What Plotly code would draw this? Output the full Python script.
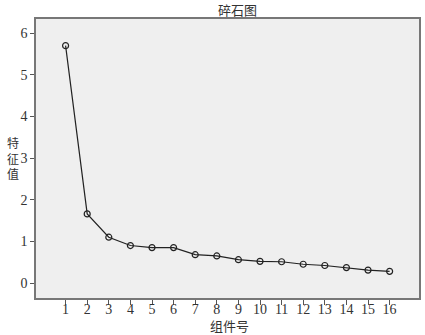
import plotly.graph_objects as go

components = list(range(1, 17))
eigenvalues = [5.70, 1.66, 1.10, 0.90, 0.85, 0.85, 0.68, 0.65, 0.56, 0.52, 0.51, 0.45, 0.42, 0.37, 0.31, 0.28]
y_ticks = [0, 1, 2, 3, 4, 5, 6]

FONT = "Liberation Serif, Noto Sans CJK SC, serif"
TXT = "#333333"

fig = go.Figure()
fig.add_trace(go.Scatter(
    x=components, y=eigenvalues, mode="lines+markers",
    line=dict(color="#222222", width=1.2),
    marker=dict(symbol="circle-open", size=6, color="#222222", line=dict(width=1.2)),
    showlegend=False,
))

fig.update_layout(
    width=425, height=335,
    margin=dict(l=36, r=6, t=19, b=37, autoexpand=False),
    paper_bgcolor="white", plot_bgcolor="#efefef",
    font=dict(family=FONT, size=14, color=TXT),
)
fig.update_xaxes(
    range=[-0.37, 17.36], tickmode="array", tickvals=components,
    ticktext=[str(c) for c in components],
    ticks="outside", ticklen=5, tickcolor="#555555",
    ticklabelstandoff=-8,
    showgrid=False, zeroline=False, automargin=False,
    showline=True, linecolor="#777777", linewidth=1.5, mirror=True,
    tickfont=dict(family=FONT, size=14, color=TXT),
)
fig.update_yaxes(
    range=[-0.36, 6.34], tickmode="array", tickvals=y_ticks,
    ticks="outside", ticklen=4, tickcolor="#555555",
    showgrid=False, zeroline=False, automargin=False,
    showline=True, linecolor="#777777", linewidth=1.5, mirror=True,
    tickfont=dict(family=FONT, size=14, color=TXT),
)
fig.add_annotation(
    text="碎石图", xref="paper", yref="paper",
    x=0.525, y=1.0, xanchor="center", yanchor="bottom", yshift=-1,
    showarrow=False, font=dict(family=FONT, size=13, color=TXT),
)
fig.add_annotation(
    text="组件号", xref="paper", yref="paper",
    x=0.505, y=0.0, xanchor="center", yanchor="top", yshift=-19,
    showarrow=False, font=dict(family=FONT, size=13, color=TXT),
)
fig.add_annotation(
    text="特<br>征<br>值", xref="paper", yref="paper",
    x=-0.061, y=0.497, xanchor="center", yanchor="middle",
    showarrow=False, align="center",
    font=dict(family=FONT, size=12, color=TXT),
)

fig.write_html(
    "out.html",
    config={"displayModeBar": False},
    post_script="document.body.style.margin='0';document.body.style.padding='0';document.body.style.overflow='hidden';",
)
